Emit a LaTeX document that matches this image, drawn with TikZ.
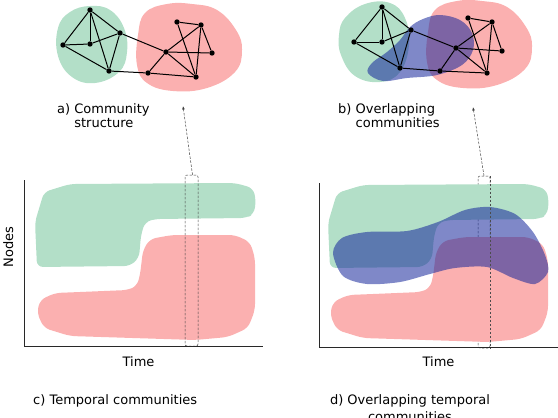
\documentclass[tikz,border=0pt]{standalone}
\usepackage{fontspec}
\setmainfont{DejaVu Sans}
\usetikzlibrary{arrows.meta}
\definecolor{cgreen}{RGB}{179,223,200}
\definecolor{cred}{RGB}{251,176,176}
\definecolor{cblue}{RGB}{22,39,155}
\definecolor{caxis}{RGB}{40,40,40}
\newcommand\GreenStepPath{(37,267) -- (35,222) -- (44,192) -- (70,184) -- (235,183) -- (253,188) -- (256,200) -- (254,214) -- (246,218) -- (155,219) -- (145,222) -- (141,235) -- (139,258) -- (130,266) -- cycle}
\newcommand\RedStepPath{(143,250) -- (150,239) -- (172,235) -- (235,235) -- (250,242) -- (255,258) -- (255,310) -- (248,328) -- (228,337) -- (195,340) -- (70,336) -- (44,328) -- (37,313) -- (40,300) -- (55,293) -- (80,292) -- (128,290) -- (137,286) -- (140,275) -- cycle}
\begin{document}
\begin{tikzpicture}[x=1pt,y=-1pt,
  vtx/.style={circle,fill=black,inner sep=0pt,minimum size=5.4pt},
  edge/.style={line width=1pt},
  gblob/.style={fill=cgreen},
  rblob/.style={fill=cred},
  bblob/.style={fill=cblue,fill opacity=0.55},
  axisline/.style={line width=1pt,draw=caxis},
  dashbox/.style={draw=black!75,line width=0.5pt,dash pattern=on 2.5pt off 1.5pt,rounded corners=2pt,inner sep=0pt},
  dashline/.style={draw=black!70,line width=0.5pt,dash pattern=on 2.5pt off 1.5pt},
  dasharrow/.style={draw=black!75,line width=0.5pt,dash pattern=on 2.5pt off 1.5pt,-{Latex[length=3.5pt,width=2.6pt]}},
  lbl/.style={font=\fontsize{13}{14}\selectfont,inner sep=0pt},
]
\useasboundingbox (0,0) rectangle (558,418);

% ---------- panel a ----------
\fill[gblob] plot[smooth cycle,tension=0.7] coordinates {(70,12) (90,6) (110,10) (124,28) (127,52) (119,72) (95,83) (72,77) (58,56) (58,28)};
\fill[rblob] plot[smooth cycle,tension=0.7] coordinates {(145,13) (167,4) (192,4) (217,10) (236,30) (242,50) (235,72) (207,88) (173,91) (147,83) (137,65) (138,35)};
\node[vtx] (a1) at (90,10) {};
\node[vtx] (a2) at (63,45) {};
\node[vtx] (a3) at (90,44) {};
\node[vtx] (a4) at (120,33) {};
\node[vtx] (a5) at (109,71) {};
\node[vtx] (a6) at (177,22) {};
\node[vtx] (a7) at (201,25) {};
\node[vtx] (a8) at (166,52) {};
\node[vtx] (a9) at (212,53) {};
\node[vtx] (a10) at (148,73) {};
\node[vtx] (a11) at (196,77) {};
\foreach \u/\v in {1/2,1/3,1/4,1/5,2/3,2/5,3/4,4/5,4/8,5/10,10/8,10/11,8/11,8/7,8/9,6/7,6/11,7/11,7/9}
  \draw[edge] (a\u) -- (a\v);
\node[lbl,anchor=base west,align=left] (la) at (57,127) {a) Community\\\phantom{a) }structure};

% ---------- panel b ----------
\fill[gblob] plot[smooth cycle,tension=0.7] coordinates {(345,18) (365,4) (390,3) (405,18) (409,45) (400,72) (380,82) (355,76) (341,55) (339,35)};
\fill[rblob] plot[smooth cycle,tension=0.7] coordinates {(435,10) (457,1) (482,1) (507,7) (526,27) (532,47) (525,69) (497,85) (463,88) (437,80) (427,62) (428,32)};
\fill[bblob] plot[smooth cycle,tension=0.6] coordinates {(368,73) (372,63) (387,52) (400,40) (410,27) (423,19) (440,15) (460,20) (472,33) (473,50) (462,65) (437,75) (407,78) (383,81)};
\node[vtx] (b1) at (382,7) {};
\node[vtx] (b2) at (354,42) {};
\node[vtx] (b3) at (382,42) {};
\node[vtx] (b4) at (411,30) {};
\node[vtx] (b5) at (400,68) {};
\node[vtx] (b6) at (468,18) {};
\node[vtx] (b7) at (492,22) {};
\node[vtx] (b8) at (456,48) {};
\node[vtx] (b9) at (502,51) {};
\node[vtx] (b10) at (440,71) {};
\node[vtx] (b11) at (487,73) {};
\foreach \u/\v in {1/2,1/3,1/4,1/5,2/3,2/5,3/4,4/5,4/8,5/10,10/8,10/11,8/11,8/7,8/9,6/7,6/11,7/11,7/9}
  \draw[edge] (b\u) -- (b\v);
\node[lbl,anchor=base west,align=left] (lb) at (338,127) {b) Overlapping\\\phantom{b) }communities};

% ---------- panel c ----------
\fill[gblob,rounded corners=6pt] \GreenStepPath;
\fill[rblob,rounded corners=6pt] \RedStepPath;
\node[dashbox,minimum width=13pt,minimum height=171pt] (boxc) at (191.5,260.5) {};
\draw[axisline] (24,180) -- (24,346) -- (263,346);
\node[lbl,anchor=base] (tc) at (138.5,366.7) {Time};
\node[lbl,anchor=base,rotate=90] (nodesl) at (13,247) {Nodes};
\node[lbl,anchor=base west] (lc) at (33,404) {c) Temporal communities};
\coordinate (tipa) at (183,106);
\draw[dasharrow] ([xshift=1pt]boxc.north) -- (tipa);

% ---------- panel d ----------
\node[dashbox,minimum width=12pt,minimum height=172pt] (boxd) at (484,262) {};
\begin{scope}[shift={(293,1)}]
\fill[gblob,rounded corners=6pt] \GreenStepPath;
\end{scope}
\begin{scope}[shift={(293,2)}]
\fill[rblob,rounded corners=6pt] \RedStepPath;
\end{scope}
\fill[bblob] plot[smooth cycle,tension=0.5] coordinates {(333,253) (342,238) (367,232) (407,231) (438,222) (465,210) (490,207) (515,214) (533,232) (545,255) (548,272) (535,284) (513,278) (487,267) (455,268) (430,274) (400,282) (367,284) (343,276)};
\draw[dashline] (boxd.north east) -- (boxd.south east);
\draw[axisline] (319,183) -- (319,347) -- (558,347);
\node[lbl,anchor=base] (td) at (438.5,366.7) {Time};
\node[lbl,anchor=base,align=center,font=\fontsize{13}{17}\selectfont] (ld) at (410,421.5) {d) Overlapping temporal\\communities};
\coordinate (tipb) at (473,107);
\draw[dasharrow] (boxd.north) -- (tipb);
\end{tikzpicture}
\end{document}
